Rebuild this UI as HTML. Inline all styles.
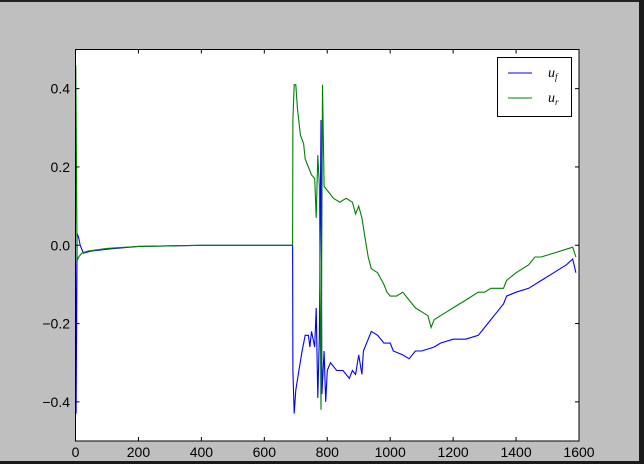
<!DOCTYPE html>
<html><head><meta charset="utf-8"><style>
html,body{margin:0;padding:0;background:#bfbfbf;}
svg{display:block;}
</style></head><body>
<svg id="chart" width="644" height="464" xmlns="http://www.w3.org/2000/svg" font-family="Liberation Sans, sans-serif">
<rect x="0" y="0" width="644" height="464" fill="#bfbfbf"/>
<rect x="0" y="0" width="644" height="2" fill="#222"/>
<rect x="639" y="0" width="5" height="464" fill="#1a1a1a"/>
<rect x="0" y="461" width="644" height="3" fill="#1a1a1a"/>
<rect x="75.5" y="49.5" width="503.5" height="391.5" fill="#fff"/>
<g id="series"></g>
<g id="ticks"></g>
<rect x="75.5" y="49.5" width="503.5" height="391.5" fill="none" stroke="#000" stroke-width="1"/>
<g>
<rect x="497.5" y="57.5" width="74" height="59" fill="#fff" stroke="#000"/>
<line x1="508" y1="73" x2="532" y2="73" stroke="#0000ff" stroke-width="1"/>
<text x="548" y="77" font-family="Liberation Serif, serif" font-style="italic" font-size="14">u<tspan font-size="9" dy="3">f</tspan></text>
<line x1="508" y1="98" x2="532" y2="98" stroke="#008000" stroke-width="1"/>
<text x="548" y="102" font-family="Liberation Serif, serif" font-style="italic" font-size="14">u<tspan font-size="9" dy="3">r</tspan></text>
</g>
</svg>
<script>
const xTicks = [0,200,400,600,800,1000,1200,1400,1600];
const yTicks = [-0.4,-0.2,0.0,0.2,0.4];
const yTickLabels = ["\u22120.4","\u22120.2","0.0","0.2","0.4"];
const ufX = [0,2,5,10,15,25,50,100,200,400,690,691,695,700,710,720,730,740,745,750,760,765,770,775,780,783,790,795,800,810,830,850,870,880,890,900,910,915,930,940,960,980,1000,1010,1040,1060,1080,1100,1140,1160,1200,1240,1280,1300,1320,1340,1360,1370,1400,1440,1480,1520,1560,1580,1590];
const ufY = [0,-0.43,0.03,0.02,0.0,-0.02,-0.015,-0.01,-0.003,0,0,-0.32,-0.43,-0.37,-0.32,-0.27,-0.23,-0.23,-0.26,-0.22,-0.26,-0.16,-0.39,-0.23,0.32,-0.38,-0.27,-0.40,-0.32,-0.30,-0.32,-0.32,-0.34,-0.32,-0.33,-0.28,-0.33,-0.27,-0.24,-0.22,-0.23,-0.25,-0.25,-0.27,-0.28,-0.29,-0.27,-0.27,-0.26,-0.25,-0.24,-0.24,-0.23,-0.21,-0.19,-0.17,-0.15,-0.13,-0.12,-0.11,-0.09,-0.07,-0.05,-0.035,-0.07];
const urX = [0,1,5,10,20,40,100,200,400,690,691,695,700,705,715,725,730,740,750,760,765,770,775,780,785,790,800,820,840,860,880,890,900,910,920,930,940,960,980,990,1000,1020,1040,1060,1080,1100,1120,1130,1140,1160,1180,1200,1220,1240,1260,1280,1300,1320,1340,1360,1370,1400,1440,1460,1480,1520,1560,1580,1590];
const urY = [0,0.46,-0.04,-0.03,-0.02,-0.015,-0.008,-0.003,0,0,0.32,0.41,0.41,0.35,0.28,0.26,0.22,0.20,0.18,0.17,0.07,0.23,0.15,-0.42,0.41,0.15,0.14,0.12,0.11,0.12,0.11,0.08,0.10,0.07,0.02,-0.03,-0.06,-0.07,-0.10,-0.12,-0.13,-0.13,-0.12,-0.14,-0.16,-0.17,-0.18,-0.21,-0.19,-0.18,-0.17,-0.16,-0.15,-0.14,-0.13,-0.12,-0.12,-0.11,-0.11,-0.11,-0.09,-0.07,-0.05,-0.03,-0.03,-0.02,-0.01,-0.005,-0.03];

const NS = "http://www.w3.org/2000/svg";
const L=75.5,R=579,T=49.5,B=441;
function sx(v){return L+(v-0)/(1600-0)*(R-L);}
function sy(v){return B-(v+0.5)/1.0*(B-T);}

const series = document.getElementById('series');
function drawLine(xs,ys,color,name){
  const p=document.createElementNS(NS,'polyline');
  p.setAttribute('points', xs.map((x,i)=>sx(x).toFixed(1)+','+sy(ys[i]).toFixed(1)).join(' '));
  p.setAttribute('fill','none');
  p.setAttribute('stroke',color);
  p.setAttribute('stroke-width','1.1');
  
  
  series.appendChild(p);
}
drawLine(ufX,ufY,'#0000ff','line-uf');
drawLine(urX,urY,'#008000','line-ur');

const ticks=document.getElementById('ticks');
function mk(tag,attrs){const e=document.createElementNS(NS,tag);for(const k in attrs)e.setAttribute(k,attrs[k]);return e;}
xTicks.forEach(v=>{
  const x=sx(v);
  const t1=mk('line',{x1:x,y1:B,x2:x,y2:B-4,stroke:'#000'});
  
  
  ticks.appendChild(t1);
  const t2=mk('line',{x1:x,y1:T,x2:x,y2:T+4,stroke:'#000'});
  
  
  ticks.appendChild(t2);
  const tx=mk('text',{x:x,y:457,'text-anchor':'middle','font-size':'14',fill:'#000'});
  tx.textContent=String(v);
  
  
  ticks.appendChild(tx);
});
yTicks.forEach((v,i)=>{
  const y=sy(v);
  const t1=mk('line',{x1:L,y1:y,x2:L+4,y2:y,stroke:'#000'});
  
  
  ticks.appendChild(t1);
  const t2=mk('line',{x1:R,y1:y,x2:R-4,y2:y,stroke:'#000'});
  
  
  ticks.appendChild(t2);
  const tx=mk('text',{x:70,y:y+5,'text-anchor':'end','font-size':'14',fill:'#000'});
  tx.textContent=yTickLabels[i];
  
  
  ticks.appendChild(tx);
});
</script>
</body></html>
